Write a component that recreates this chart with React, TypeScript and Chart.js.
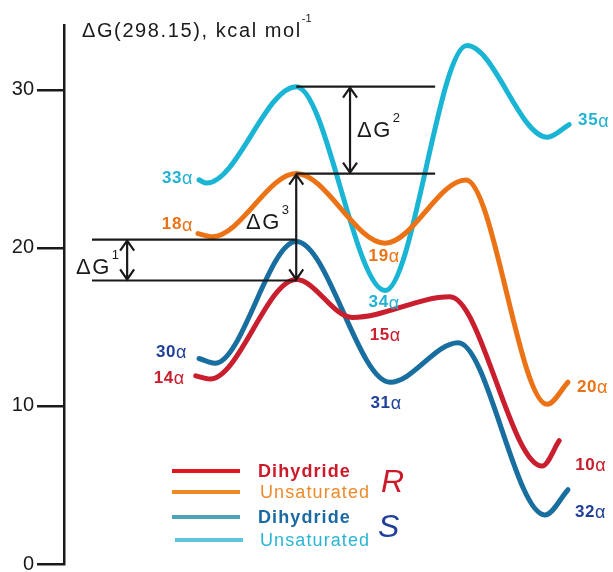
import React, { useEffect, useRef } from "react";
import { Chart, registerables } from "chart.js";

Chart.register(...registerables);

const FONT = '"Liberation Sans", Arial, Helvetica, sans-serif';

// Reaction coordinate (arbitrary units) and free energies (kcal/mol) of each pathway
const rDihydrideX = [2.4, 2.66, 4.23, 5.25, 7.03, 8.71, 9.02];
const rDihydrideG = [11.9, 11.7, 18.0, 15.6, 16.9, 6.2, 7.8];
const rUnsatX = [2.44, 2.7, 4.23, 5.85, 7.32, 8.8, 9.18];
const rUnsatG = [20.9, 20.7, 24.7, 20.3, 24.3, 10.1, 11.5];
const sDihydrideX = [2.46, 2.75, 4.23, 5.94, 7.18, 8.76, 9.18];
const sDihydrideG = [13.0, 12.7, 20.4, 11.5, 14.0, 3.1, 4.7];
const sUnsatX = [2.46, 2.6, 4.23, 5.85, 7.34, 8.8, 9.2];
const sUnsatG = [24.3, 24.1, 30.2, 17.3, 32.8, 27.0, 27.8];

// Species names attached to stationary points (point index in each series)
const rDihydrideSpecies = ["14α", "15α", "10α"];
const rUnsatSpecies = ["18α", "19α", "20α"];
const sDihydrideSpecies = ["30α", "31α", "32α"];
const sUnsatSpecies = ["33α", "34α", "35α"];

const seriesNames = ["Dihydride", "Unsaturated", "Dihydride", "Unsaturated"];
const groupNames = ["R", "S"];

const yTicks = [0, 10, 20, 30];
const Y_MAX = 34.1;
const X_MIN = 0;
const X_MAX = 10;

// Span of the barrier reference lines along the reaction coordinate
const dg1LineStart = 0.51;
const dg1ArrowX = 1.15;
const dg2LineEnd = 6.76;
const dg2ArrowX = 5.21;

const COLORS = {
  rDihydride: "#c81e2d",
  rUnsat: "#ec7216",
  sDihydride: "#196ea0",
  sUnsat: "#1ab4d4",
  navy: "#1f3f98",
  ink: "#1a1a1a",
};

type Placement = { idx: number; dx: number; dy: number; align: "left" | "right" | "center" };

const speciesPlacement: Placement[][] = [
  [
    { idx: 0, dx: -11, dy: 2, align: "right" },
    { idx: 3, dx: 33, dy: 18, align: "center" },
    { idx: 5, dx: 33, dy: -1, align: "left" },
  ],
  [
    { idx: 0, dx: -5, dy: -9, align: "right" },
    { idx: 3, dx: -1, dy: 13, align: "center" },
    { idx: 6, dx: 9, dy: 5, align: "left" },
  ],
  [
    { idx: 0, dx: -12, dy: -6, align: "right" },
    { idx: 3, dx: -4, dy: 21, align: "center" },
    { idx: 5, dx: 30, dy: -3, align: "left" },
  ],
  [
    { idx: 0, dx: -6, dy: -2, align: "right" },
    { idx: 3, dx: -1, dy: 12, align: "center" },
    { idx: 6, dx: 9, dy: -4, align: "left" },
  ],
];

const speciesColors = [COLORS.rDihydride, COLORS.rUnsat, COLORS.navy, "#22b2d4"];

const legendLineColors = ["#e0161e", "#ee8a23", "#4ba5b8", "#5ec5da"];
const legendTextColors = ["#cc1a2a", "#ee8a2a", "#1b6aa3", "#2ab5d5"];
const legendBold = [true, false, true, false];
const legendRowsY = [471, 492, 517, 540];
const legendGroupColors = ["#cc1a2a", COLORS.navy];
const legendGroupY = [483, 528];

const toPoints = (xs: number[], ys: number[]) => xs.map((x, i) => ({ x, y: ys[i] }));

function setSpacing(ctx: CanvasRenderingContext2D, px: number) {
  (ctx as any).letterSpacing = `${px}px`;
}

function drawSpecies(
  ctx: CanvasRenderingContext2D,
  label: string,
  x: number,
  y: number,
  align: "left" | "right" | "center",
  color: string
) {
  const num = label.slice(0, -1);
  const greek = label.slice(-1);
  ctx.save();
  ctx.textBaseline = "middle";
  ctx.textAlign = "left";
  ctx.fillStyle = color;
  setSpacing(ctx, 0.6);
  ctx.font = `bold 17px ${FONT}`;
  const w1 = ctx.measureText(num).width;
  ctx.font = `18px ${FONT}`;
  const w2 = ctx.measureText(greek).width;
  const total = w1 + w2;
  const x0 = align === "right" ? x - total : align === "center" ? x - total / 2 : x;
  ctx.font = `bold 17px ${FONT}`;
  ctx.fillText(num, x0, y);
  ctx.font = `18px ${FONT}`;
  ctx.fillText(greek, x0 + w1, y + 1);
  ctx.restore();
}

function drawDeltaG(ctx: CanvasRenderingContext2D, x: number, y: number, sup: string) {
  ctx.save();
  ctx.fillStyle = COLORS.ink;
  ctx.textBaseline = "middle";
  ctx.textAlign = "left";
  setSpacing(ctx, 1.5);
  ctx.font = `22px ${FONT}`;
  ctx.fillText("ΔG", x, y);
  const w = ctx.measureText("ΔG").width;
  ctx.font = `13px ${FONT}`;
  setSpacing(ctx, 0);
  ctx.fillText(sup, x + w + 1, y - 13);
  ctx.restore();
}

function hLine(ctx: CanvasRenderingContext2D, x1: number, x2: number, y: number) {
  ctx.beginPath();
  ctx.moveTo(x1, y);
  ctx.lineTo(x2, y);
  ctx.stroke();
}

function vArrow(ctx: CanvasRenderingContext2D, x: number, yTop: number, yBottom: number) {
  const hw = 7;
  const hh = 11;
  ctx.beginPath();
  ctx.moveTo(x, yTop);
  ctx.lineTo(x, yBottom);
  ctx.moveTo(x - hw, yTop + hh);
  ctx.lineTo(x, yTop + 1);
  ctx.lineTo(x + hw, yTop + hh);
  ctx.moveTo(x - hw, yBottom - hh);
  ctx.lineTo(x, yBottom - 1);
  ctx.lineTo(x + hw, yBottom - hh);
  ctx.stroke();
}

const speciesNames = [rDihydrideSpecies, rUnsatSpecies, sDihydrideSpecies, sUnsatSpecies];

const notesPlugin = {
  id: "energyNotes",
  afterDatasetsDraw(chart: any) {
    const { ctx } = chart;
    const xs = chart.scales.x;
    const ys = chart.scales.y;
    const px = (v: number) => xs.getPixelForValue(v);
    const py = (v: number) => ys.getPixelForValue(v);

    ctx.save();
    ctx.strokeStyle = COLORS.ink;
    ctx.lineWidth = 2.2;
    ctx.lineCap = "butt";
    ctx.lineJoin = "miter";

    // ΔG1: S dihydride TS vs R dihydride TS
    const sTs = py(sDihydrideG[2]) - 2;
    const rTs = py(rDihydrideG[2]) + 1;
    const tsX = px(rDihydrideX[2]);
    hLine(ctx, px(dg1LineStart), tsX, sTs);
    hLine(ctx, px(dg1LineStart), tsX, rTs);
    vArrow(ctx, px(dg1ArrowX), sTs, rTs);

    // ΔG2: S unsaturated TS vs R unsaturated TS
    const suTs = py(sUnsatG[2]);
    const ruTs = py(rUnsatG[2]);
    hLine(ctx, px(sUnsatX[2]), px(dg2LineEnd), suTs);
    hLine(ctx, px(rUnsatX[2]), px(dg2LineEnd), ruTs);
    vArrow(ctx, px(dg2ArrowX), suTs, ruTs);

    // ΔG3: R unsaturated TS vs R dihydride TS
    vArrow(ctx, tsX, ruTs, rTs);
    ctx.restore();

    drawDeltaG(ctx, 76, 268, "1");
    drawDeltaG(ctx, 357, 131, "2");
    drawDeltaG(ctx, 246, 223, "3");

    // species labels
    const seriesX = [rDihydrideX, rUnsatX, sDihydrideX, sUnsatX];
    const seriesG = [rDihydrideG, rUnsatG, sDihydrideG, sUnsatG];
    speciesPlacement.forEach((list, s) => {
      list.forEach((p, k) => {
        const x = px(seriesX[s][p.idx]) + p.dx;
        const y = py(seriesG[s][p.idx]) + p.dy;
        drawSpecies(ctx, speciesNames[s][k], x, y, p.align, speciesColors[s]);
      });
    });

    // axis title
    ctx.save();
    ctx.fillStyle = COLORS.ink;
    ctx.textBaseline = "middle";
    ctx.textAlign = "left";
    ctx.font = `20px ${FONT}`;
    setSpacing(ctx, 1.6);
    const title = "ΔG(298.15), kcal mol";
    ctx.fillText(title, 82, 31);
    const tw = ctx.measureText(title).width;
    ctx.font = `11px ${FONT}`;
    setSpacing(ctx, 0);
    ctx.fillText("-1", 82 + tw, 19);
    ctx.restore();

    // legend
    ctx.save();
    chart.data.datasets.forEach((ds: any, i: number) => {
      const y = legendRowsY[i];
      ctx.strokeStyle = legendLineColors[i];
      ctx.lineWidth = 4;
      ctx.beginPath();
      ctx.moveTo(i === 3 ? 175 : 172, y);
      ctx.lineTo(i === 3 ? 243 : 240, y);
      ctx.stroke();
      ctx.fillStyle = legendTextColors[i];
      ctx.font = `${legendBold[i] ? "bold " : ""}18px ${FONT}`;
      setSpacing(ctx, 1.1);
      ctx.textBaseline = "middle";
      ctx.textAlign = "left";
      ctx.fillText(ds.label, i % 2 === 0 ? 258 : 260, y + 1);
    });
    groupNames.forEach((g, i) => {
      ctx.fillStyle = legendGroupColors[i];
      ctx.font = `italic 32px ${FONT}`;
      setSpacing(ctx, 0);
      ctx.textBaseline = "middle";
      ctx.fillText(g, i === 0 ? 381 : 378, legendGroupY[i]);
    });
    ctx.restore();
  },
};

export default function App() {
  const canvasRef = useRef<HTMLCanvasElement | null>(null);

  useEffect(() => {
    if (!canvasRef.current) return;
    const lineStyle = (color: string) => ({
      borderColor: color,
      backgroundColor: color,
      borderWidth: 5,
      pointRadius: 0,
      cubicInterpolationMode: "monotone" as const,
      borderCapStyle: "round" as const,
      fill: false,
    });
    const chart = new Chart(canvasRef.current, {
      type: "line",
      data: {
        datasets: [
          { label: seriesNames[0], data: toPoints(rDihydrideX, rDihydrideG), ...lineStyle(COLORS.rDihydride) },
          { label: seriesNames[1], data: toPoints(rUnsatX, rUnsatG), ...lineStyle(COLORS.rUnsat) },
          { label: seriesNames[2], data: toPoints(sDihydrideX, sDihydrideG), ...lineStyle(COLORS.sDihydride) },
          { label: seriesNames[3], data: toPoints(sUnsatX, sUnsatG), ...lineStyle(COLORS.sUnsat) },
        ],
      },
      options: {
        responsive: false,
        devicePixelRatio: 1,
        animation: false,
        layout: { padding: { left: 0, top: 25, right: 0, bottom: 8 } },
        plugins: { legend: { display: false }, tooltip: { enabled: false }, title: { display: false } },
        scales: {
          x: { type: "linear", min: X_MIN, max: X_MAX, display: false },
          y: {
            type: "linear",
            min: 0,
            max: Y_MAX,
            afterFit: (scale: any) => {
              scale.width = 64;
              // the edge tick labels may overhang; keep the plot area where the layout puts it
              scale.paddingTop = 0;
              scale.paddingBottom = 0;
            },
            afterBuildTicks: (scale: any) => {
              scale.ticks = yTicks.map((v) => ({ value: v }));
            },
            border: { display: true, color: COLORS.ink, width: 2.5 },
            grid: {
              drawOnChartArea: false,
              drawTicks: true,
              tickLength: 27,
              color: COLORS.ink,
              lineWidth: 2.5,
            },
            ticks: {
              padding: 3,
              color: COLORS.ink,
              font: { family: FONT, size: 20 },
            },
          },
        },
      },
      plugins: [notesPlugin],
    });
    return () => chart.destroy();
  }, []);

  return (
    <div style={{ position: "absolute", left: 0, top: 0, width: 613, height: 572, background: "#fff" }}>
      <canvas ref={canvasRef} width={613} height={572} style={{ display: "block" }} />
    </div>
  );
}
